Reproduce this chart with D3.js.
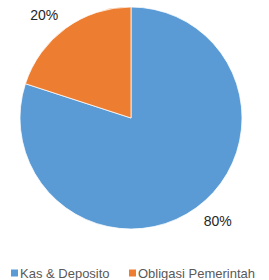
<!DOCTYPE html>
<html>
<head>
  <meta charset="utf-8">
  <script src="https://cdn.jsdelivr.net/npm/d3@7"></script>
  <style>
    body { margin: 0; background: #fff; }
    text { font-family: "Liberation Sans", Arial, sans-serif; }
  </style>
</head>
<body>
<script>
  // data
  var categories = ["Kas & Deposito", "Obligasi Pemerintah"];
  var shares = [80, 20];
  var colours = ["#5B9BD5", "#ED7D31"];

  var width = 269, height = 280,
      cx = 131, cy = 118, radius = 111,
      labelR = 135;

  var svg = d3.select("body").append("svg")
      .attr("width", width)
      .attr("height", height);

  var data = categories.map(function (c, i) { return { name: c, value: shares[i], colour: colours[i] }; });

  var pie = d3.pie().sort(null).value(function (d) { return d.value; });
  var arc = d3.arc().innerRadius(0).outerRadius(radius);

  var g = svg.append("g").attr("transform", "translate(" + cx + "," + cy + ")");

  g.selectAll("path")
    .data(pie(data))
    .enter().append("path")
      .attr("d", arc)
      .attr("fill", function (d) { return d.data.colour; })
      .attr("stroke", "#fff")
      .attr("stroke-width", 0.75);

  // labels sit a little anticlockwise of the slice middle, like excel does
  g.selectAll("text.lbl")
    .data(pie(data))
    .enter().append("text")
      .attr("class", "lbl")
      .attr("transform", function (d) {
        var a = (d.startAngle + d.endAngle) / 2 - 0.07;
        return "translate(" + (labelR * Math.sin(a)) + "," + (-labelR * Math.cos(a)) + ")";
      })
      .attr("text-anchor", "middle")
      .attr("dy", "0.35em")
      .style("font-size", "14px")
      .style("fill", "#262626")
      .text(function (d) { return d.data.value + "%"; });

  // legend
  var legendX = [11, 129];
  var legend = svg.selectAll("g.legend")
    .data(data)
    .enter().append("g")
      .attr("class", "legend")
      .attr("transform", function (d, i) { return "translate(" + legendX[i] + ",273)"; });

  legend.append("rect")
    .attr("x", 0).attr("y", -3.5)
    .attr("width", 7).attr("height", 7)
    .attr("fill", function (d) { return d.colour; });

  legend.append("text")
    .attr("x", 9)
    .attr("dy", "0.35em")
    .style("font-size", "13px")
    .style("fill", "#595959")
    .text(function (d) { return d.name; });
</script>
</body>
</html>
